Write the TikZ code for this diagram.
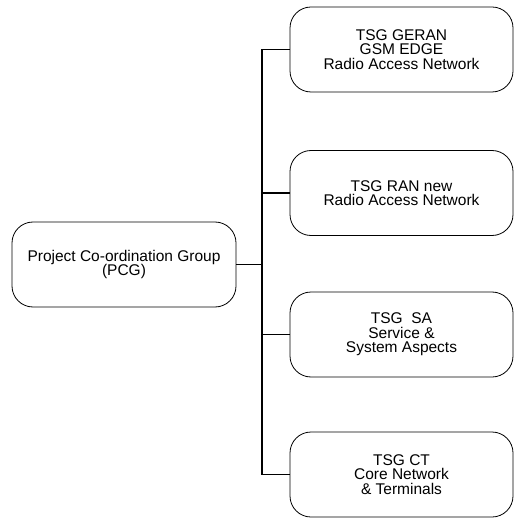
\documentclass[tikz,border=0pt]{standalone}
\usepackage{fontspec}
\setmainfont{Liberation Sans}
\begin{document}
\begin{tikzpicture}[x=1pt, y=-1pt, font=\fontsize{15.5}{14.5}\selectfont,
    tsgbox/.style={draw, line width=0.8pt, rounded corners=21pt, align=center,
        minimum width=223pt, minimum height=85pt, inner sep=2pt},
    link/.style={line width=1.2pt}]
    \useasboundingbox (0,0) rectangle (514,518);

    % 协调组
    \node[tsgbox, minimum width=224pt] (pcg) at (124,264.5) {Project Co-ordination Group\\(PCG)};

    % 各技术规范组
    \node[tsgbox] (geran) at (401.5,49.5) {TSG GERAN\\GSM EDGE\\Radio Access Network};
    \node[tsgbox] (ran) at (401.5,193) {TSG RAN new\\Radio Access Network};
    \node[tsgbox] (sa) at (401.5,334.5) {TSG\ \ SA\\Service \&\\System Aspects};
    \node[tsgbox] (ct) at (401.5,474.5) {TSG CT\\Core Network\\\& Terminals};

    % 连接线
    \coordinate (trunk) at (262,264);
    \draw[link] (geran.west) -- (geran.west -| trunk) -- (ct.west -| trunk) -- (ct.west);
    \draw[link] (ran.west) -- (ran.west -| trunk);
    \draw[link] (sa.west) -- (sa.west -| trunk);
    \draw[link] (pcg.east) -- (pcg.east -| trunk);
\end{tikzpicture}
\end{document}
